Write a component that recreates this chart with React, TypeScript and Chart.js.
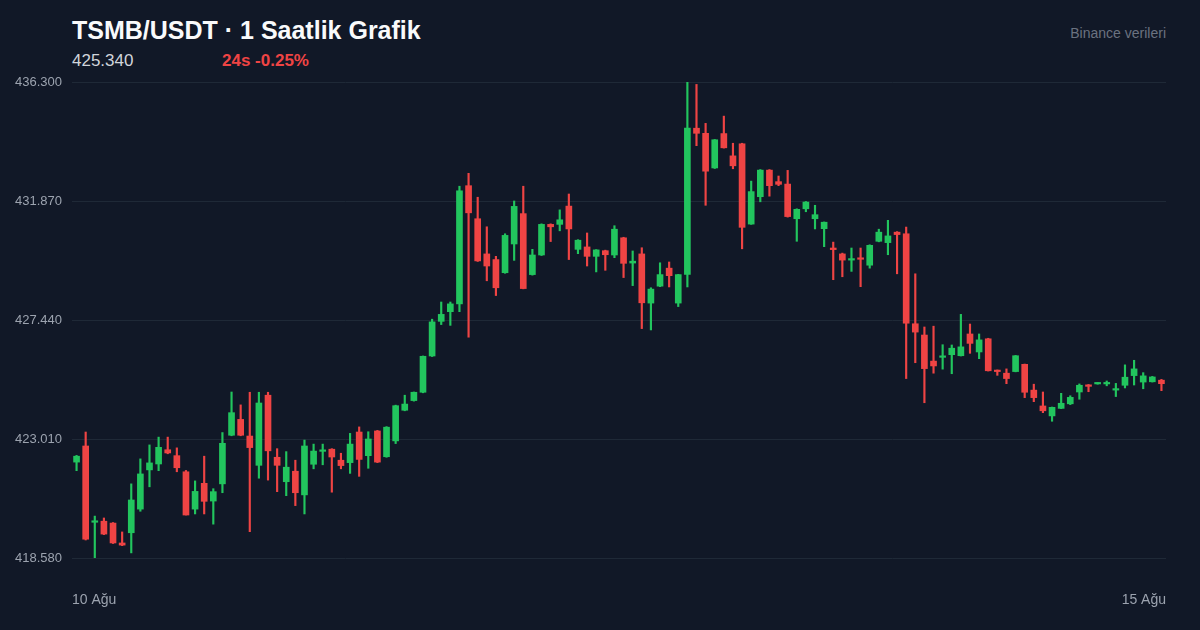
import React, { useEffect, useRef } from 'react';
import { Chart, registerables } from 'chart.js';

Chart.register(...registerables);

// hourly candles, 10 Ağu -> 15 Ağu
const opens = [
  422.15, 422.75, 419.91, 419.95, 419.88, 419.14, 419.52, 420.40, 421.86, 422.08,
  422.61, 422.39, 421.79, 420.40, 421.36, 420.70, 421.34, 423.15, 423.74, 423.12,
  422.03, 424.64, 422.33, 421.42, 421.81, 420.93, 422.07, 422.55, 422.63, 422.22,
  422.13, 423.27, 422.39, 423.31, 422.35, 422.94, 424.08, 424.44, 424.75, 426.10,
  427.39, 427.75, 428.04, 432.44, 431.21, 429.90, 429.69, 429.20, 430.27, 431.40,
  429.13, 429.86, 431.00, 431.00, 431.68, 430.07, 430.16, 429.81, 430.02, 429.86,
  430.50, 429.56, 429.90, 428.07, 428.70, 429.37, 428.07, 429.14, 434.58, 434.39,
  433.10, 434.38, 433.55, 434.00, 431.01, 432.03, 433.02, 432.59, 432.50, 431.21,
  431.58, 431.21, 430.84, 430.12, 429.90, 429.67, 429.75, 429.48, 430.37, 430.32,
  430.71, 430.65, 427.30, 426.88, 425.91, 426.05, 426.15, 426.11, 426.92, 426.25,
  426.74, 425.57, 425.46, 425.52, 425.79, 424.83, 424.24, 423.87, 424.15, 424.32,
  424.76, 425.02, 425.06, 425.06, 424.83, 425.01, 425.37, 425.13, 425.14, 425.20,
];

const highs = [
  422.40, 423.27, 420.14, 420.07, 419.90, 419.55, 421.34, 422.27, 422.79, 423.08,
  423.08, 422.68, 421.84, 421.45, 422.37, 421.16, 423.25, 424.76, 424.28, 424.75,
  424.75, 424.75, 422.65, 422.54, 422.22, 422.97, 422.82, 422.82, 422.65, 422.48,
  423.22, 423.46, 423.28, 423.33, 423.47, 424.27, 424.64, 424.76, 426.10, 427.47,
  428.11, 428.11, 432.42, 432.90, 432.01, 430.91, 429.81, 430.65, 431.87, 432.42,
  430.07, 431.02, 431.02, 431.54, 432.13, 430.43, 430.68, 430.06, 430.04, 430.95,
  430.52, 430.01, 430.13, 428.64, 429.57, 429.60, 429.14, 436.30, 436.21, 434.76,
  434.16, 435.03, 434.02, 434.02, 432.61, 433.04, 433.04, 432.80, 433.01, 431.58,
  431.85, 431.71, 431.09, 430.34, 429.93, 430.12, 430.12, 430.24, 430.82, 431.15,
  430.73, 430.90, 429.16, 427.18, 427.21, 426.52, 426.51, 427.65, 427.29, 426.92,
  426.76, 425.58, 425.62, 426.12, 425.80, 425.05, 424.76, 424.20, 424.71, 424.62,
  425.06, 425.04, 425.11, 425.17, 425.08, 425.77, 425.94, 425.48, 425.34, 425.23,
];

const lows = [
  421.83, 419.25, 418.59, 419.45, 419.12, 419.04, 418.77, 420.32, 421.23, 421.83,
  422.46, 421.79, 420.18, 420.22, 420.22, 419.84, 421.01, 423.13, 423.13, 419.56,
  421.55, 421.48, 421.05, 420.90, 420.53, 420.22, 421.90, 422.05, 421.03, 421.90,
  421.73, 421.62, 421.92, 422.13, 422.33, 422.84, 424.06, 424.42, 424.73, 426.08,
  427.27, 427.24, 427.75, 426.80, 429.62, 428.90, 428.35, 429.18, 429.66, 428.60,
  429.11, 429.84, 430.36, 430.76, 429.69, 429.91, 429.45, 429.23, 429.29, 429.76,
  429.02, 428.72, 427.12, 427.07, 428.68, 428.67, 427.94, 428.67, 433.93, 431.71,
  433.08, 433.84, 433.07, 430.09, 431.00, 431.84, 432.05, 432.44, 431.27, 430.37,
  431.47, 430.83, 430.17, 428.94, 429.05, 429.25, 428.68, 429.37, 430.35, 429.87,
  429.16, 425.26, 425.85, 424.36, 425.46, 425.61, 425.44, 426.10, 426.20, 426.00,
  425.54, 425.38, 425.07, 425.51, 424.55, 424.40, 423.99, 423.67, 424.14, 424.29,
  424.49, 424.77, 425.05, 424.99, 424.59, 424.91, 425.02, 424.88, 425.13, 424.81,
];

const closes = [
  422.37, 419.28, 419.96, 419.47, 419.14, 419.06, 420.74, 421.71, 422.12, 422.70,
  422.49, 421.94, 420.18, 421.06, 420.69, 421.05, 422.85, 423.99, 423.15, 422.69,
  424.35, 422.57, 422.03, 421.96, 421.01, 422.75, 422.56, 422.60, 422.34, 422.02,
  422.82, 422.25, 423.01, 422.15, 423.45, 424.25, 424.31, 424.75, 426.09, 427.37,
  427.65, 428.04, 432.25, 431.43, 429.64, 429.45, 428.64, 430.59, 431.67, 428.61,
  429.86, 431.00, 430.91, 431.17, 430.83, 430.41, 429.81, 430.05, 429.87, 430.82,
  429.55, 429.63, 428.08, 428.59, 429.13, 429.09, 429.13, 434.58, 434.39, 432.98,
  434.15, 433.85, 433.18, 430.89, 432.22, 433.02, 432.44, 432.49, 431.29, 431.56,
  431.83, 431.36, 431.08, 430.06, 429.67, 429.72, 429.70, 430.22, 430.71, 430.57,
  430.62, 427.32, 426.99, 425.63, 425.73, 426.10, 426.39, 426.44, 426.57, 426.70,
  425.55, 425.52, 425.26, 426.11, 424.75, 424.55, 424.06, 424.19, 424.34, 424.56,
  425.01, 424.97, 425.10, 425.10, 424.88, 425.31, 425.62, 425.36, 425.32, 425.07,
];

const yTicks = [418.58, 423.01, 427.44, 431.87, 436.3];
const xLabels = ['10 Ağu', '15 Ağu'];

const UP = '#22c55e';
const DOWN = '#ef4444';
const FONT = '"Liberation Sans", Arial, sans-serif';

function App() {
  const canvasRef = useRef<HTMLCanvasElement>(null);

  useEffect(() => {
    document.body.style.margin = '0';
    document.body.style.background = '#111827';
    if (!canvasRef.current) return;

    const colors = opens.map((o, i) => (closes[i] >= o ? UP : DOWN));

    const chart = new Chart(canvasRef.current, {
      type: 'bar',
      data: {
        datasets: [
          {
            label: 'wick',
            data: opens.map((_, i) => ({ x: i, y: [lows[i], highs[i]] })) as any,
            backgroundColor: colors,
            barThickness: 1.5,
            grouped: false,
            borderWidth: 0,
          },
          {
            label: 'body',
            data: opens.map((o, i) => ({ x: i, y: [o, closes[i]] })) as any,
            backgroundColor: colors,
            barThickness: 6,
            minBarLength: 1.5,
            grouped: false,
            borderWidth: 0,
          },
        ],
      },
      options: {
        responsive: true,
        maintainAspectRatio: false,
        animation: false,
        layout: { padding: { top: 82, right: 34, bottom: 0, left: 0 } },
        plugins: { legend: { display: false }, tooltip: { enabled: false } },
        scales: {
          x: {
            type: 'linear',
            min: -0.5,
            max: 119.5,
            offset: false,
            grid: { display: false },
            border: { display: false },
            afterBuildTicks: (scale: any) => {
              scale.ticks = [{ value: -0.5 }, { value: 119.5 }];
            },
            afterFit: (scale: any) => {
              scale.height = 72;
            },
            ticks: {
              align: 'inner',
              padding: 26,
              color: '#9ca3af',
              font: { family: FONT, size: 14 },
              maxRotation: 0,
              callback: (v: any) => (v < 0 ? xLabels[0] : xLabels[1]),
            },
          },
          y: {
            min: 418.58,
            max: 436.3,
            grid: { color: '#1f2937', lineWidth: 1, drawTicks: false },
            border: { display: false },
            afterBuildTicks: (scale: any) => {
              scale.ticks = yTicks.map((v) => ({ value: v }));
            },
            afterFit: (scale: any) => {
              scale.width = 72;
            },
            ticks: {
              padding: 10,
              color: '#9ca3af',
              font: { family: FONT, size: 13 },
              callback: (v: any) => Number(v).toFixed(3),
            },
          },
        },
      },
    });

    return () => {
      chart.destroy();
    };
  }, []);

  return (
    <div style={{ position: 'relative', width: 1200, height: 630, background: '#111827', fontFamily: FONT }}>
      <div style={{ position: 'absolute', left: 72, top: 18, fontSize: 25, lineHeight: 1, fontWeight: 700, color: '#f9fafb' }}>
        TSMB/USDT · 1 Saatlik Grafik
      </div>
      <div style={{ position: 'absolute', left: 72, top: 52, fontSize: 17, lineHeight: 1, color: '#d1d5db' }}>
        425.340
      </div>
      <div style={{ position: 'absolute', left: 222, top: 52, fontSize: 17, lineHeight: 1, fontWeight: 700, color: DOWN }}>
        24s -0.25%
      </div>
      <div style={{ position: 'absolute', right: 34, top: 26, fontSize: 14, lineHeight: 1, color: '#6b7280' }}>
        Binance verileri
      </div>
      <div style={{ position: 'absolute', left: 0, top: 0, width: 1200, height: 630 }}>
        <canvas ref={canvasRef} />
      </div>
    </div>
  );
}

export default App;
